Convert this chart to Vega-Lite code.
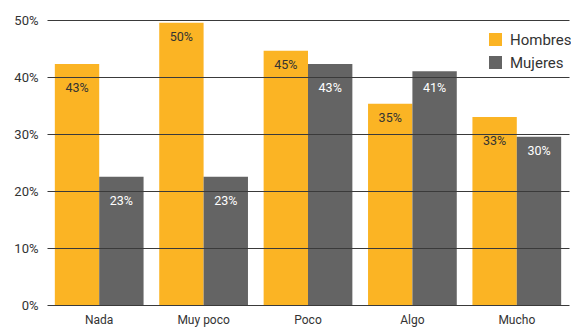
{
  "$schema": "https://vega.github.io/schema/vega-lite/v6.json",
  "width": 522,
  "height": 285,
  "autosize": {"type": "none"},
  "padding": {"left": 47, "top": 20, "right": 2, "bottom": 26},
  "background": "white",
  "config": {
    "view": {"stroke": null},
    "font": "Roboto"
  },
  "data": {
    "values": [
      {"cat": "Nada", "sexo": "Hombres", "value": 42.3, "label": "43%"},
      {"cat": "Nada", "sexo": "Mujeres", "value": 22.5, "label": "23%"},
      {"cat": "Muy poco", "sexo": "Hombres", "value": 49.5, "label": "50%"},
      {"cat": "Muy poco", "sexo": "Mujeres", "value": 22.5, "label": "23%"},
      {"cat": "Poco", "sexo": "Hombres", "value": 44.6, "label": "45%"},
      {"cat": "Poco", "sexo": "Mujeres", "value": 42.3, "label": "43%"},
      {"cat": "Algo", "sexo": "Hombres", "value": 35.3, "label": "35%"},
      {"cat": "Algo", "sexo": "Mujeres", "value": 41.0, "label": "41%"},
      {"cat": "Mucho", "sexo": "Hombres", "value": 33.0, "label": "33%"},
      {"cat": "Mucho", "sexo": "Mujeres", "value": 29.5, "label": "30%"}
    ]
  },
  "encoding": {
    "x": {
      "field": "cat", "type": "nominal", "sort": null,
      "scale": {"paddingInner": 0.15, "paddingOuter": 0.075},
      "axis": {"title": null, "labelAngle": 0, "ticks": false, "domain": false, "labelPadding": 9, "labelFontSize": 12, "labelColor": "#333"}
    },
    "xOffset": {"field": "sexo", "type": "nominal", "scale": {"paddingInner": 0}},
    "y": {
      "field": "value", "type": "quantitative",
      "scale": {"domain": [0, 50], "nice": false},
      "axis": {"title": null, "values": [0, 10, 20, 30, 40, 50], "labelExpr": "datum.value + '%'", "ticks": false, "domain": false, "grid": true, "gridColor": "#3a3a3a", "gridWidth": 1, "zindex": 1, "labelPadding": 9, "labelFontSize": 13, "labelColor": "#333"}
    }
  },
  "layer": [
    {
      "mark": {"type": "bar"},
      "encoding": {
        "color": {
          "field": "sexo", "type": "nominal",
          "scale": {"domain": ["Hombres", "Mujeres"], "range": ["#FBB424", "#646464"]},
          "legend": {"title": null, "orient": "none", "legendX": 441, "legendY": 12, "symbolType": "square", "symbolSize": 169, "symbolStrokeWidth": 0, "labelFontSize": 15, "labelColor": "#333", "rowPadding": 7, "labelOffset": 7}
        }
      }
    },
    {
      "mark": {
        "type": "text", "baseline": "middle", "fontSize": 12.5,
        "dy": {"expr": "(datum.value % 10) < 1.5 ? 17 : ((datum.value % 10) < 3.5 ? 24 : 14)"}
      },
      "encoding": {
        "text": {"field": "label"},
        "color": {
          "field": "sexo", "type": "nominal",
          "scale": {"domain": ["Hombres", "Mujeres"], "range": ["#333333", "#ffffff"]},
          "legend": null
        }
      }
    }
  ],
  "resolve": {"scale": {"color": "independent"}}
}
